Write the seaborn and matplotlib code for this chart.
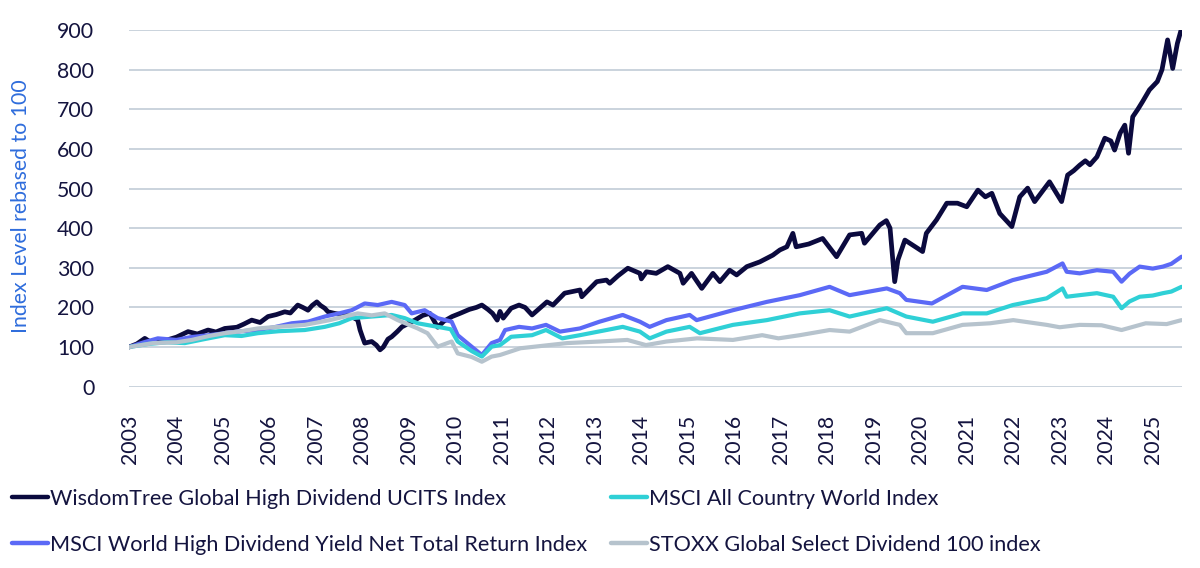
import matplotlib
matplotlib.use("Agg")
import matplotlib.pyplot as plt
import seaborn as sns
import pandas as pd

# ---------------- data (decimal years, index level rebased to 100) ----------------
wt_years = [2002.98, 2003.15, 2003.32, 2003.45, 2003.6, 2003.8, 2004.0, 2004.25, 2004.45, 2004.68, 2004.85,
            2005.04, 2005.3, 2005.45, 2005.62, 2005.8, 2005.97, 2006.15, 2006.33, 2006.45, 2006.61, 2006.72,
            2006.83, 2006.92, 2007.02, 2007.1, 2007.19, 2007.26, 2007.4, 2007.55, 2007.77, 2007.9, 2007.95,
            2008.0, 2008.05, 2008.2, 2008.3, 2008.38, 2008.45, 2008.55, 2008.63, 2008.75, 2008.85, 2009.0,
            2009.13, 2009.3, 2009.45, 2009.62, 2009.75, 2009.93, 2010.1, 2010.3, 2010.45, 2010.57, 2010.7,
            2010.8, 2010.9, 2010.96, 2011.03, 2011.2, 2011.37, 2011.5, 2011.65, 2011.97, 2012.1, 2012.35,
            2012.68, 2012.72, 2013.04, 2013.25, 2013.32, 2013.5, 2013.71, 2013.97, 2014.0, 2014.11, 2014.32,
            2014.57, 2014.83, 2014.9, 2015.08, 2015.3, 2015.54, 2015.69, 2015.9, 2016.05, 2016.27, 2016.55,
            2016.83, 2016.98, 2017.13, 2017.26, 2017.33, 2017.6, 2017.9, 2018.2, 2018.48, 2018.74, 2018.8,
            2019.13, 2019.27, 2019.35, 2019.45, 2019.52, 2019.67, 2019.84, 2020.05, 2020.13, 2020.35, 2020.57,
            2020.8, 2021.0, 2021.24, 2021.4, 2021.54, 2021.71, 2021.97, 2022.14, 2022.31, 2022.46, 2022.78,
            2023.04, 2023.17, 2023.3, 2023.43, 2023.55, 2023.65, 2023.8, 2023.97, 2024.1, 2024.18, 2024.3,
            2024.4, 2024.48, 2024.57, 2024.68, 2024.78, 2024.93, 2025.1, 2025.2, 2025.32, 2025.43, 2025.53,
            2025.62]
wt_values = [100, 108, 122, 112, 114, 118, 125, 139, 133, 143, 138,
             147, 150, 158, 168, 162, 177, 182, 189, 186, 206, 200,
             193, 205, 214, 205, 198, 189, 185, 182, 177, 168, 143,
             126, 110, 114, 105, 93, 100, 120, 126, 139, 151, 160,
             168, 180, 185, 150, 165, 177, 185, 195, 200, 206, 195,
             185, 168, 190, 173, 198, 206, 200, 181, 214, 206, 236,
             244, 227, 265, 269, 261, 280, 299, 286, 272, 290, 286,
             303, 286, 261, 286, 248, 286, 265, 294, 282, 303, 315,
             332, 345, 353, 387, 353, 360, 374, 328, 383, 387, 362,
             408, 419, 400, 265, 320, 370, 357, 341, 387, 421, 463,
             463, 454, 496, 479, 488, 437, 404, 479, 501, 467, 517,
             467, 534, 545, 559, 570, 560, 580, 627, 620, 597, 640,
             660, 589, 681, 700, 719, 749, 770, 800, 875, 803, 866,
             904]

hdy_years = [2002.98, 2003.3, 2003.6, 2004.0, 2004.3, 2004.7, 2005.04, 2005.4, 2005.75, 2006.1, 2006.48,
             2006.83, 2007.19, 2007.5, 2007.77, 2008.05, 2008.33, 2008.63, 2008.91, 2009.06, 2009.34, 2009.62,
             2009.92, 2010.05, 2010.35, 2010.57, 2010.78, 2010.96, 2011.07, 2011.37, 2011.65, 2011.95, 2012.25,
             2012.68, 2013.1, 2013.6, 2013.97, 2014.18, 2014.54, 2015.04, 2015.19, 2015.97, 2016.7, 2017.41,
             2018.05, 2018.48, 2019.28, 2019.56, 2019.7, 2020.25, 2020.91, 2021.43, 2021.99, 2022.72, 2023.06,
             2023.15, 2023.43, 2023.8, 2024.15, 2024.33, 2024.5, 2024.72, 2025.0, 2025.22, 2025.4, 2025.62]
hdy_values = [100, 112, 122, 118, 125, 130, 135, 140, 143, 150, 160,
              164, 177, 185, 193, 210, 206, 214, 206, 185, 193, 173,
              164, 130, 101, 80, 110, 118, 143, 151, 147, 156, 139,
              147, 164, 181, 164, 151, 168, 181, 168, 193, 214, 231,
              252, 231, 248, 236, 219, 210, 252, 244, 269, 290, 311,
              290, 286, 294, 290, 265, 285, 303, 298, 303, 310, 328]

acwi_years = [2002.98, 2003.4, 2003.8, 2004.18, 2004.6, 2005.04, 2005.4, 2005.75, 2006.2, 2006.76, 2007.19,
              2007.5, 2007.77, 2008.2, 2008.63, 2008.91, 2009.19, 2009.62, 2009.9, 2010.05, 2010.35, 2010.57,
              2010.78, 2010.96, 2011.2, 2011.65, 2011.95, 2012.3, 2012.68, 2013.6, 2013.97, 2014.18, 2014.54,
              2015.04, 2015.26, 2015.97, 2016.7, 2017.41, 2018.05, 2018.48, 2019.28, 2019.7, 2020.27, 2020.91,
              2021.43, 2021.99, 2022.72, 2023.06, 2023.15, 2023.43, 2023.8, 2024.15, 2024.33, 2024.5, 2024.72,
              2025.0, 2025.22, 2025.4, 2025.62]
acwi_values = [100, 108, 112, 110, 120, 130, 128, 135, 140, 143, 151,
               160, 173, 177, 181, 173, 160, 151, 145, 114, 90, 76,
               101, 105, 126, 130, 143, 122, 130, 151, 139, 122, 139,
               151, 135, 156, 168, 185, 193, 177, 198, 177, 164, 185,
               185, 206, 223, 248, 227, 231, 236, 227, 198, 215, 227,
               230, 236, 240, 252]

stoxx_years = [2002.98, 2003.5, 2004.0, 2004.33, 2004.7, 2005.04, 2005.4, 2005.75, 2006.3, 2006.76, 2007.3,
               2007.9, 2008.2, 2008.48, 2008.76, 2009.19, 2009.4, 2009.62, 2009.92, 2010.05, 2010.35, 2010.57,
               2010.78, 2010.96, 2011.4, 2012.4, 2013.1, 2013.7, 2014.1, 2014.54, 2015.2, 2015.97, 2016.6,
               2016.95, 2017.41, 2018.05, 2018.48, 2019.13, 2019.56, 2019.7, 2020.27, 2020.91, 2021.5, 2022.0,
               2022.72, 2023.0, 2023.43, 2023.9, 2024.33, 2024.85, 2025.3, 2025.62]
stoxx_values = [100, 110, 112, 118, 128, 135, 140, 147, 152, 156, 168,
                185, 180, 185, 168, 147, 135, 101, 114, 84, 75, 63,
                76, 80, 97, 110, 114, 118, 105, 114, 122, 118, 130,
                122, 130, 143, 139, 168, 156, 135, 135, 156, 160, 168,
                156, 150, 156, 155, 143, 160, 158, 168]

series_names = ["WisdomTree Global High Dividend UCITS Index",
                "MSCI World High Dividend Yield Net Total Return Index",
                "MSCI All Country World Index",
                "STOXX Global Select Dividend 100 index"]
year_ticks = list(range(2003, 2026))
value_ticks = list(range(0, 1000, 100))

# ---------------- styling ----------------
sns.set_theme(style="white")
plt.rcParams['font.family'] = ['Lato', 'DejaVu Sans']

colors = ["#0b0a3e", "#5b69f6", "#2fd0d6", "#b6c3cd"]
widths = [3.4, 3.0, 3.0, 3.0]
TXT = "#14143f"

frames = []
for name, xs, ys in zip(series_names,
                        [wt_years, hdy_years, acwi_years, stoxx_years],
                        [wt_values, hdy_values, acwi_values, stoxx_values]):
    frames.append(pd.DataFrame({"year": xs, "value": ys, "series": name}))

fig = plt.figure(figsize=(12, 5.68), dpi=100)
ax = fig.add_axes([129 / 1200, 1 - 386.7 / 568, (1182 - 129) / 1200, (386.7 - 30) / 568])

for i in range(4):
    sns.lineplot(data=frames[i], x="year", y="value", ax=ax, color=colors[i],
                 linewidth=widths[i], estimator=None, sort=False, legend=False)

ax.set_xlim(2002.98, 2025.63)
ax.set_ylim(0, 900)
ax.set_yticks(value_ticks)
ax.set_xticks(year_ticks)
ax.set_xticklabels([str(y) for y in year_ticks], rotation=90)
ax.yaxis.grid(True, color="#c6d0da", linewidth=1.3)
ax.xaxis.grid(False)
ax.set_axisbelow(True)
for s in ax.spines.values():
    s.set_visible(False)
ax.tick_params(axis="y", length=0, pad=25, labelsize=15.3, labelcolor=TXT)
ax.tick_params(axis="x", length=0, pad=20, labelsize=15.3, labelcolor=TXT)
ax.set_xlabel("")
ax.set_ylabel("Index Level rebased to 100", color="#2f6ddc", fontsize=15.3)
ax.yaxis.set_label_coords(-(129 - 31) / 1053, (386.7 - 206) / 356.7)

handles = [plt.Line2D([], [], color=c, linewidth=3.2) for c in colors]
leg = fig.legend(handles, series_names, ncol=2, loc="center left",
                 bbox_to_anchor=(12 / 1200, 1 - 522 / 568), frameon=False,
                 fontsize=15.6, handlelength=1.66, handletextpad=0.1,
                 columnspacing=1.1, labelspacing=1.2, borderpad=0, borderaxespad=0)
for t in leg.get_texts():
    t.set_color(TXT)

fig.savefig("out.png", dpi=100)
